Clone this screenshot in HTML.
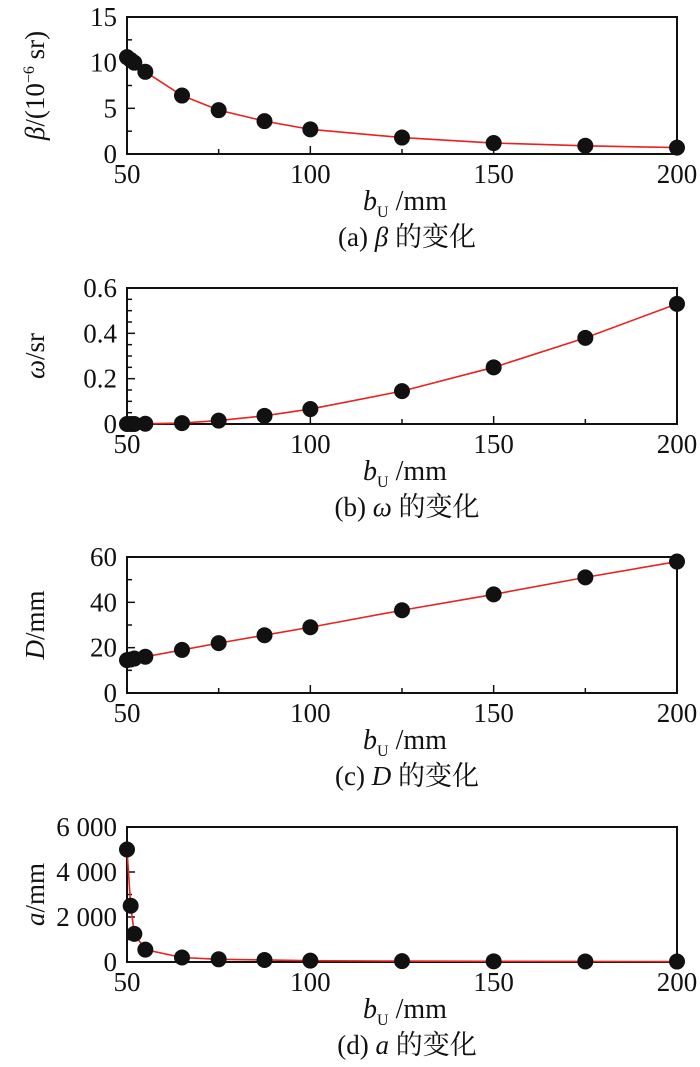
<!DOCTYPE html>
<html><head><meta charset="utf-8"><style>
html,body{margin:0;padding:0;background:#fff;}
svg{display:block;}
text{font-family:"Liberation Serif","Noto Serif CJK SC",serif;fill:#111;}
</style></head><body>
<svg id="s" width="700" height="1067" viewBox="0 0 700 1067" xmlns="http://www.w3.org/2000/svg"></svg>
<script>
var NS="http://www.w3.org/2000/svg";
var s=document.getElementById('s');
function el(t,a,txt){var e=document.createElementNS(NS,t);for(var k in a)e.setAttribute(k,a[k]);if(txt!==undefined)e.innerHTML=txt;s.appendChild(e);return e;}
var xs=[50,51,52,55,65,75,87.5,100,125,150,175,200];
var L=127,R=677;
function X(v){return L+(v-50)*(R-L)/150;}
var panels=[
 {top:17,bot:154,max:15,major:[0,5,10,15],labels:["0","5","10","15"],minor:2.5,
  ys:[10.6,10.3,10.0,9.0,6.4,4.8,3.6,2.7,1.8,1.2,0.9,0.7],
  ylab:'<tspan font-style="italic">β</tspan>/(10<tspan dy="-10" font-size="16">−6</tspan><tspan dy="10"> sr)</tspan>',cap:'(a) <tspan font-style="italic">β</tspan> 的变化'},
 {top:288,bot:424,max:0.6,major:[0,0.2,0.4,0.6],labels:["0","0.2","0.4","0.6"],minor:0.05,
  ys:[0,0,0,0.001,0.004,0.015,0.036,0.066,0.145,0.25,0.38,0.53],
  ylab:'<tspan font-style="italic">ω</tspan>/sr',cap:'(b) <tspan font-style="italic">ω</tspan> 的变化'},
 {top:557,bot:693,max:60,major:[0,20,40,60],labels:["0","20","40","60"],minor:10,
  ys:[14.5,14.8,15.2,16,19,22,25.5,29,36.5,43.5,51,58],
  ylab:'<tspan font-style="italic">D</tspan>/mm',cap:'(c) <tspan font-style="italic">D</tspan> 的变化'},
 {top:827,bot:962,max:6000,major:[0,2000,4000,6000],labels:["0","2 000","4 000","6 000"],minor:1000,
  ys:[5000,2500,1250,550,200,120,90,60,40,30,25,20],
  ylab:'<tspan font-style="italic">a</tspan>/mm',cap:'(d) <tspan font-style="italic">a</tspan> 的变化'}
];
panels.forEach(function(p){
 function Y(v){return p.bot-v*(p.bot-p.top)/p.max;}
 el('rect',{x:L,y:p.top,width:R-L,height:p.bot-p.top,fill:'none',stroke:'#111','stroke-width':2});
 for(var v=0;v<=p.max+1e-9;v+=p.minor){var y=Y(v);var isM=p.major.some(function(m){return Math.abs(m-v)<1e-9});
  el('line',{x1:L,x2:L+(isM?8:5),y1:y,y2:y,stroke:'#111','stroke-width':1.5});}
 [50,75,100,125,150,175,200].forEach(function(v){el('line',{x1:X(v),x2:X(v),y1:p.bot,y2:p.bot-(v%50?5:8),stroke:'#111','stroke-width':1.5});});
 p.major.forEach(function(m,i){el('text',{x:L-10,y:Y(m)+9,'font-size':27,'text-anchor':'end'},p.labels[i]);});
 [50,100,150,200].forEach(function(v){el('text',{x:X(v),y:p.bot+29,'font-size':27,'text-anchor':'middle'},v);});
 var pts=xs.map(function(x,i){return X(x)+','+Y(p.ys[i]);}).join(' ');
 el('polyline',{points:pts,fill:'none',stroke:'#e8231f','stroke-width':1.6});
 xs.forEach(function(x,i){el('circle',{cx:X(x),cy:Y(p.ys[i]),r:8,fill:'#111'});});
 el('text',{x:405,y:p.bot+56,'font-size':28,'text-anchor':'middle'},'<tspan font-style="italic">b</tspan><tspan dy="7" font-size="16">U</tspan><tspan dy="-7"> /mm</tspan>');
 el('text',{x:407,y:p.bot+92,'font-size':27,'text-anchor':'middle'},p.cap);
 var cy=(p.top+p.bot)/2;
 el('text',{x:0,y:0,'font-size':27,'text-anchor':'middle',transform:'translate(44,'+cy+') rotate(-90)'},p.ylab);
});
</script>
</body></html>
